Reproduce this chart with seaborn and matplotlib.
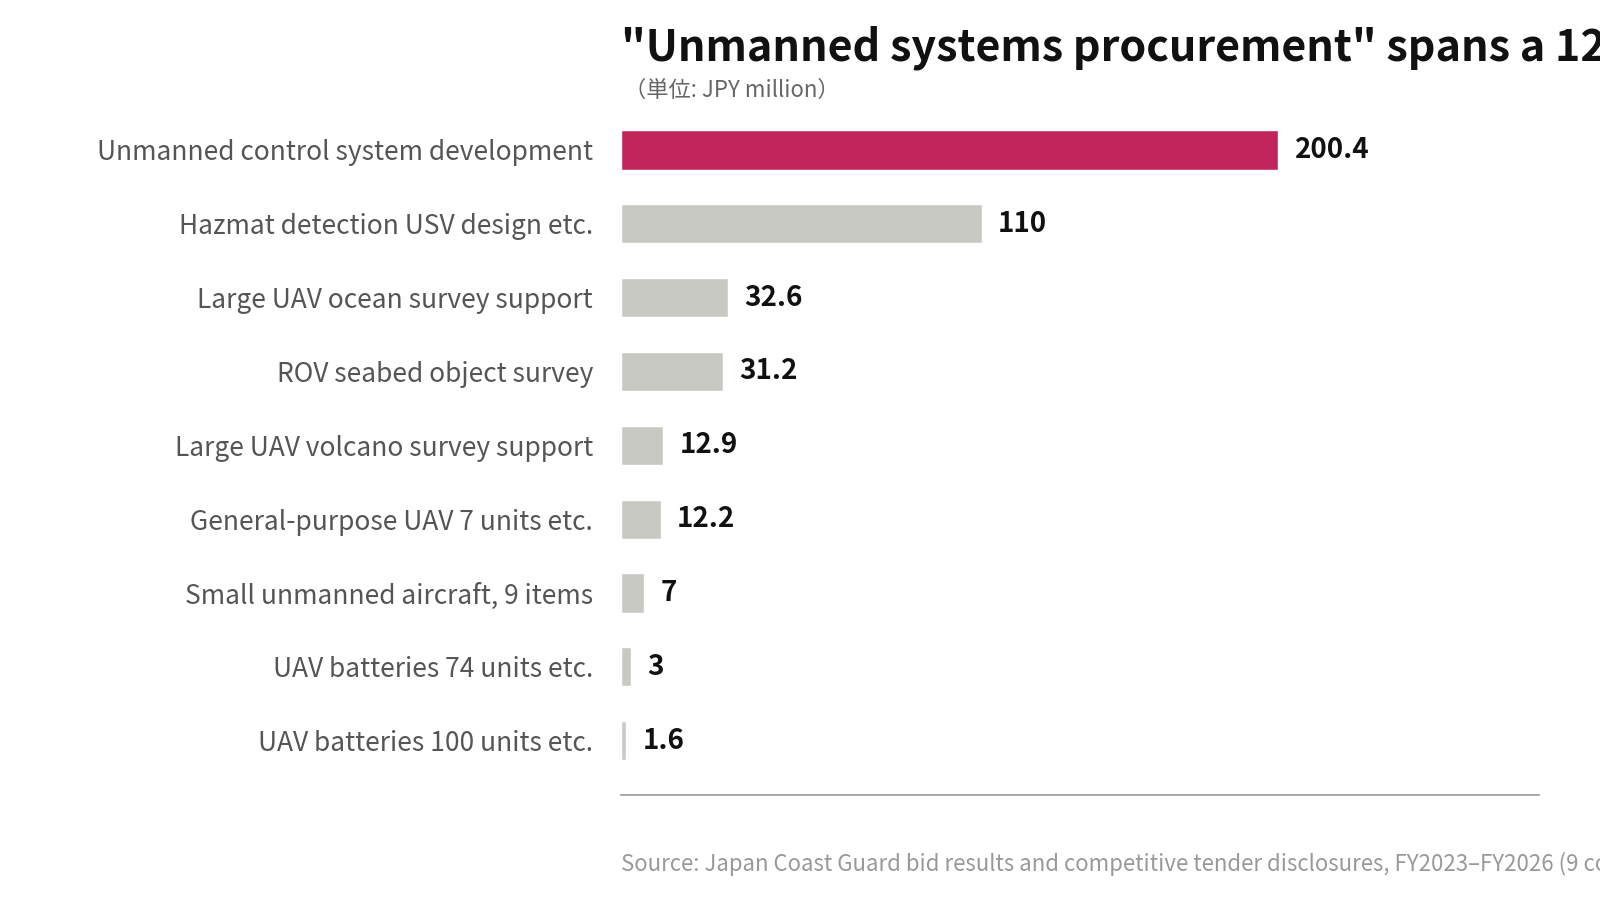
import matplotlib
matplotlib.use("Agg")
import matplotlib.pyplot as plt
import seaborn as sns
import pandas as pd

categories = ["Unmanned control system development", "Hazmat detection USV design etc.",
              "Large UAV ocean survey support", "ROV seabed object survey",
              "Large UAV volcano survey support", "General-purpose UAV 7 units etc.",
              "Small unmanned aircraft, 9 items", "UAV batteries 74 units etc.",
              "UAV batteries 100 units etc."]
values = [200.4, 110, 32.6, 31.2, 12.9, 12.2, 7, 3, 1.6]
value_labels = ["200.4", "110", "32.6", "31.2", "12.9", "12.2", "7", "3", "1.6"]

sns.set_style("white")
plt.rcParams['font.family'] = ['Noto Sans CJK JP', 'DejaVu Sans']

df = pd.DataFrame({"cat": categories, "val": values})
colors = ["#c2255c"] + ["#c9c9c4"] * (len(values) - 1)

fig = plt.figure(figsize=(16, 9.06), dpi=100)
ax = fig.add_axes([0.388, 0.123, 0.574, 0.771])
sns.barplot(data=df, y="cat", x="val", hue="cat", palette=colors, legend=False,
            width=0.53, ax=ax, saturation=1)
ax.set_xlim(0, 280)
ax.set_ylim(8.73, -0.73)
ax.set_xlabel("")
ax.set_ylabel("")
ax.set_xticks([])
ax.tick_params(axis='y', length=0, pad=20, labelsize=19, labelcolor="#555555")
for s in ["top", "right", "left"]:
    ax.spines[s].set_visible(False)
ax.spines["bottom"].set_color("#999999")
ax.spines["bottom"].set_linewidth(1.2)

for i, (v, lab) in enumerate(zip(values, value_labels)):
    ax.text(v + 5, i, lab, va="center", ha="left", fontsize=20, fontweight="bold", color="#111111")

fig.text(0.388, 0.947, "\"Unmanned systems procurement\" spans a 125-fold price range",
         fontsize=31, fontweight="bold", color="#111111", va="center", ha="left")
fig.text(0.390, 0.900, "（単位: JPY million）", fontsize=16, color="#666666", va="center", ha="left")
fig.text(0.388, 0.046, "Source: Japan Coast Guard bid results and competitive tender disclosures, FY2023–FY2026 (9 contracts)",
         fontsize=16, color="#999999", va="center", ha="left")

fig.savefig("out.png", dpi=100)
